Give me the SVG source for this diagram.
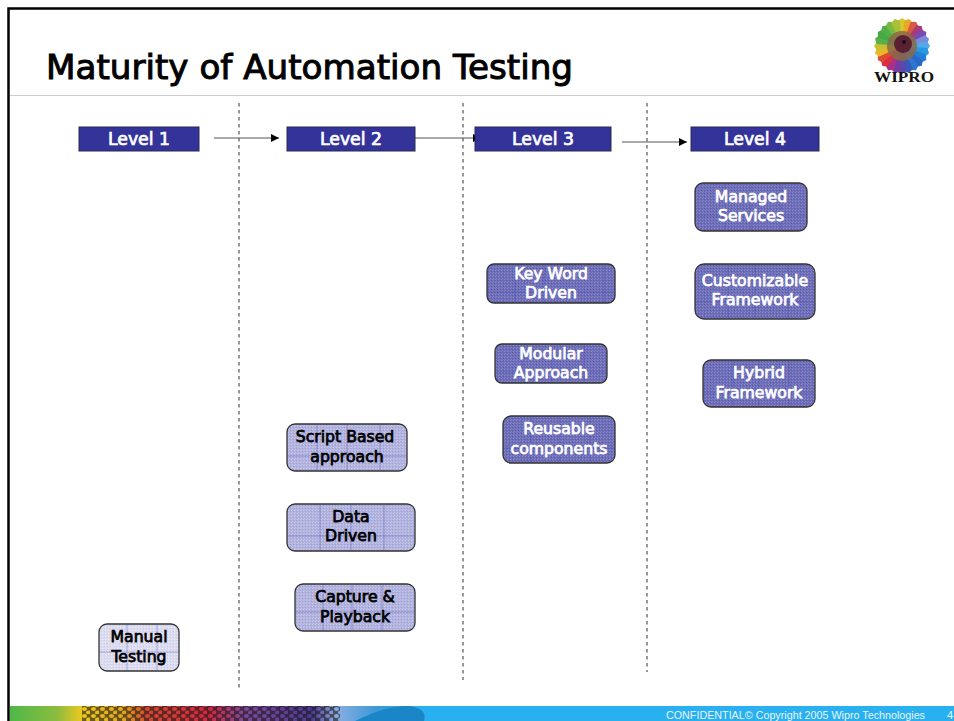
<svg xmlns="http://www.w3.org/2000/svg" width="954" height="721" viewBox="0 0 954 721">
<style>
text{font-family:"DejaVu Sans","Liberation Sans",sans-serif}
.lv{fill:#333399;stroke:#2a2a55;stroke-width:1}
.lt{font-size:17.300px;fill:#fff;stroke:#fff;stroke-width:.7;text-anchor:middle}
.n{stroke:#333;stroke-width:1.3}
.a{fill:url(#na)}.b{fill:url(#nb)}.c{fill:url(#nc)}
.t{font-size:15.700px;text-anchor:middle;stroke-width:.75}
.w{fill:#fff;stroke:#fff}.k{fill:#000;stroke:#000}
.g{stroke:#4444b0;stroke-width:.7;opacity:.55;fill:none}
.d{stroke:#777;stroke-width:1.5;stroke-dasharray:3.5 3.5;fill:none}
.ar{stroke:#555;stroke-width:1;fill:none;marker-end:url(#h)}
</style>
<defs>
<marker id="h" markerUnits="userSpaceOnUse" markerWidth="9" markerHeight="8" refX="8" refY="4" orient="auto"><path d="M0 0L8 4L0 8Z" fill="#000"/></marker>
<pattern id="na" width="3" height="3" patternUnits="userSpaceOnUse"><rect width="3" height="3" fill="#6e6eb8"/><rect width="1" height="1" fill="#8a8acb"/><rect x="2" y="1" width="1" height="1" fill="#5c5cab"/><rect x="1" y="2" width="1" height="1" fill="#8080c4"/></pattern>
<pattern id="nb" width="3" height="3" patternUnits="userSpaceOnUse"><rect width="3" height="3" fill="#b2b2de"/><rect width="1" height="1" fill="#c8c8e8"/><rect x="2" y="1" width="1" height="1" fill="#a0a0d4"/><rect x="1" y="2" width="1" height="1" fill="#c2c2e6"/></pattern>
<pattern id="nc" width="3" height="3" patternUnits="userSpaceOnUse"><rect width="3" height="3" fill="#dcdcf0"/><rect width="1" height="1" fill="#ececf8"/><rect x="2" y="1" width="1" height="1" fill="#ccccE6"/></pattern>
<pattern id="dots" width="10" height="7" patternUnits="userSpaceOnUse"><rect width="10" height="7" fill="#1c1418" opacity=".55"/><circle cx="3" cy="2" r="2.300" fill-opacity="0"/><circle cx="8" cy="5.500" r="2.300" fill-opacity="0"/></pattern>
<pattern id="spots" width="9" height="7" patternUnits="userSpaceOnUse"><path d="M0 0H9V7H0Z M1 2a2.500 2 0 1 0 5 0a2.500 2 0 1 0 -5 0Z M5 5.500a2.500 2 0 1 0 5 0a2.500 2 0 1 0 -5 0Z" fill="#1c1418" fill-rule="evenodd" opacity=".6"/></pattern>
<linearGradient id="bar" x1="10" x2="954" y1="0" y2="0" gradientUnits="userSpaceOnUse">
<stop offset="0" stop-color="#4fb848"/><stop offset=".05" stop-color="#8cbc3e"/><stop offset=".075" stop-color="#e8c820"/><stop offset=".12" stop-color="#e0a820"/><stop offset=".145" stop-color="#d04a30"/><stop offset=".21" stop-color="#d02a40"/><stop offset=".25" stop-color="#7a4a9a"/><stop offset=".32" stop-color="#4a3a90"/><stop offset=".345" stop-color="#8aaee0"/><stop offset=".39" stop-color="#3a98d8"/><stop offset=".44" stop-color="#29b0f0"/><stop offset="1" stop-color="#29b0f0"/>
</linearGradient>
<path id="p" d="M0 0L-4.500 -25L0 -28L4.500 -25Z"/>
</defs>
<rect width="954" height="721" fill="#fff"/>
<path d="M8.500 721V8.500H954" fill="none" stroke="#000" stroke-width="2.500"/>
<line x1="10" x2="954" y1="95.500" y2="95.500" stroke="#ccc" stroke-width="1"/>
<text x="46" y="79" font-size="34" textLength="527" lengthAdjust="spacingAndGlyphs" fill="#000" stroke="#000" stroke-width="1">Maturity of Automation Testing</text>
<g id="logo">
<g transform="translate(902 46)">
<use href="#p" fill="#d8c830" transform="rotate(0)"/><use href="#p" fill="#e8a828" transform="rotate(15)"/><use href="#p" fill="#d85a40" transform="rotate(30)"/><use href="#p" fill="#a83a78" transform="rotate(45)"/><use href="#p" fill="#7a4ab0" transform="rotate(60)"/><use href="#p" fill="#7a8ad8" transform="rotate(75)"/><use href="#p" fill="#50a8e8" transform="rotate(90)"/><use href="#p" fill="#2a98e0" transform="rotate(105)"/><use href="#p" fill="#2080d8" transform="rotate(120)"/><use href="#p" fill="#2a68c8" transform="rotate(135)"/><use href="#p" fill="#2a78d0" transform="rotate(150)"/><use href="#p" fill="#3a58b8" transform="rotate(165)"/><use href="#p" fill="#5a48b0" transform="rotate(180)"/><use href="#p" fill="#7a3aa0" transform="rotate(195)"/><use href="#p" fill="#a83088" transform="rotate(210)"/><use href="#p" fill="#d83040" transform="rotate(225)"/><use href="#p" fill="#e04830" transform="rotate(240)"/><use href="#p" fill="#e8b828" transform="rotate(255)"/><use href="#p" fill="#c8c030" transform="rotate(270)"/><use href="#p" fill="#58b048" transform="rotate(285)"/><use href="#p" fill="#48a848" transform="rotate(300)"/><use href="#p" fill="#50b048" transform="rotate(315)"/><use href="#p" fill="#78b840" transform="rotate(330)"/><use href="#p" fill="#a8c038" transform="rotate(345)"/>
<circle r="15" fill="#8a6a48" opacity=".85"/><circle cx="1" cy="-2" r="9" fill="#5a2034"/><circle cx="2" cy="-4" r="2" fill="#111"/>
</g>
<text x="904" y="82" font-size="15.500" font-weight="bold" text-anchor="middle" textLength="60" lengthAdjust="spacingAndGlyphs" style="font-family:'Liberation Serif',serif" fill="#111">WIPRO</text>
</g>
<g id="connectors">
<line class="d" x1="239" y1="103" x2="239" y2="688"/>
<line class="d" x1="463" y1="103" x2="463" y2="680"/>
<line class="d" x1="647" y1="103" x2="647" y2="672"/>
<line class="ar" x1="214" y1="138" x2="279" y2="138"/>
<line class="ar" x1="415" y1="138" x2="481" y2="138"/>
<line class="ar" x1="622" y1="142" x2="687" y2="142"/>
</g>
<g id="level1"><rect class="lv" x="79" y="127" width="120" height="24"/><text class="lt" x="139" y="145">Level 1</text></g>
<g id="level2"><rect class="lv" x="287" y="127" width="128" height="24"/><text class="lt" x="351" y="145">Level 2</text></g>
<g id="level3"><rect class="lv" x="475" y="127" width="136" height="24"/><text class="lt" x="543" y="145">Level 3</text></g>
<g id="level4"><rect class="lv" x="691" y="127" width="128" height="24"/><text class="lt" x="755" y="145">Level 4</text></g>

<g id="managed"><rect class="n a" x="695" y="183" width="112" height="48" rx="8"/><path class="g" d="M695 216H807M725 183V231M751 183V231M781 183V231"/><text class="t w" x="751" y="202">Managed</text><text class="t w" x="751" y="221">Services</text></g>
<g id="customizable"><rect class="n a" x="695" y="264" width="120" height="55" rx="9"/><path class="g" d="M695 302H815M728 264V319M755 264V319M788 264V319"/><text class="t w" x="755" y="286">Customizable</text><text class="t w" x="755" y="305">Framework</text></g>
<g id="hybrid"><rect class="n a" x="703" y="360" width="112" height="47" rx="8"/><path class="g" d="M703 393H815M733 360V407M759 360V407M789 360V407"/><text class="t w" x="759" y="378">Hybrid</text><text class="t w" x="759" y="398">Framework</text></g>

<g id="keyword"><rect class="n a" x="487" y="264" width="128" height="39" rx="7"/><path class="g" d="M487 292H615M515 264V303M544 264V303M604 264V303"/><text class="t w" x="551" y="279">Key Word</text><text class="t w" x="551" y="298">Driven</text></g>
<g id="modular"><rect class="n a" x="495" y="344" width="112" height="39" rx="7"/><path class="g" d="M495 372H607M523 344V383M552 344V383M584 344V383"/><text class="t w" x="551" y="359">Modular</text><text class="t w" x="551" y="378">Approach</text></g>
<g id="reusable"><rect class="n a" x="503" y="416" width="112" height="47" rx="8"/><path class="g" d="M503 448H615M531 416V463M559 416V463M590 416V463"/><text class="t w" x="559" y="434">Reusable</text><text class="t w" x="559" y="454">components</text></g>

<g id="script"><rect class="n b" x="287" y="424" width="120" height="47" rx="8"/><path class="g" d="M287 456H407M317 424V471M347 424V471M380 424V471"/><text class="t k" x="345" y="442">Script Based</text><text class="t k" x="347" y="462">approach</text></g>
<g id="data"><rect class="n b" x="287" y="504" width="128" height="47" rx="8"/><path class="g" d="M287 536H415M320 504V551M351 504V551M384 504V551"/><text class="t k" x="351" y="522">Data</text><text class="t k" x="351" y="541">Driven</text></g>
<g id="capture"><rect class="n b" x="295" y="584" width="120" height="47" rx="8"/><path class="g" d="M295 612H415M323 584V631M352 584V631M382 584V631"/><text class="t k" x="355" y="602">Capture &amp;</text><text class="t k" x="355" y="622">Playback</text></g>
<g id="manual"><rect class="n c" x="99" y="624" width="80" height="47" rx="8"/><path class="g" d="M99 652H179M127 624V671M157 624V671" opacity=".3"/><text class="t k" x="139" y="642">Manual</text><text class="t k" x="139" y="662">Testing</text></g>

<g id="footer">
<rect x="10" y="706" width="944" height="15" fill="url(#bar)"/>
<rect x="82" y="706" width="258" height="15" fill="url(#spots)"/>
<path d="M355 721Q385 706 408 706Q428 708 424 721Z" fill="#1a86c8"/>
<text x="666" y="719" font-size="11" fill="#e8f4fc" textLength="259" lengthAdjust="spacingAndGlyphs" style="font-family:'Liberation Sans',sans-serif">CONFIDENTIAL© Copyright 2005 Wipro Technologies</text>
<text x="947" y="719" font-size="11" fill="#e8f4fc" style="font-family:'Liberation Sans',sans-serif">4</text>
</g>
</svg>
